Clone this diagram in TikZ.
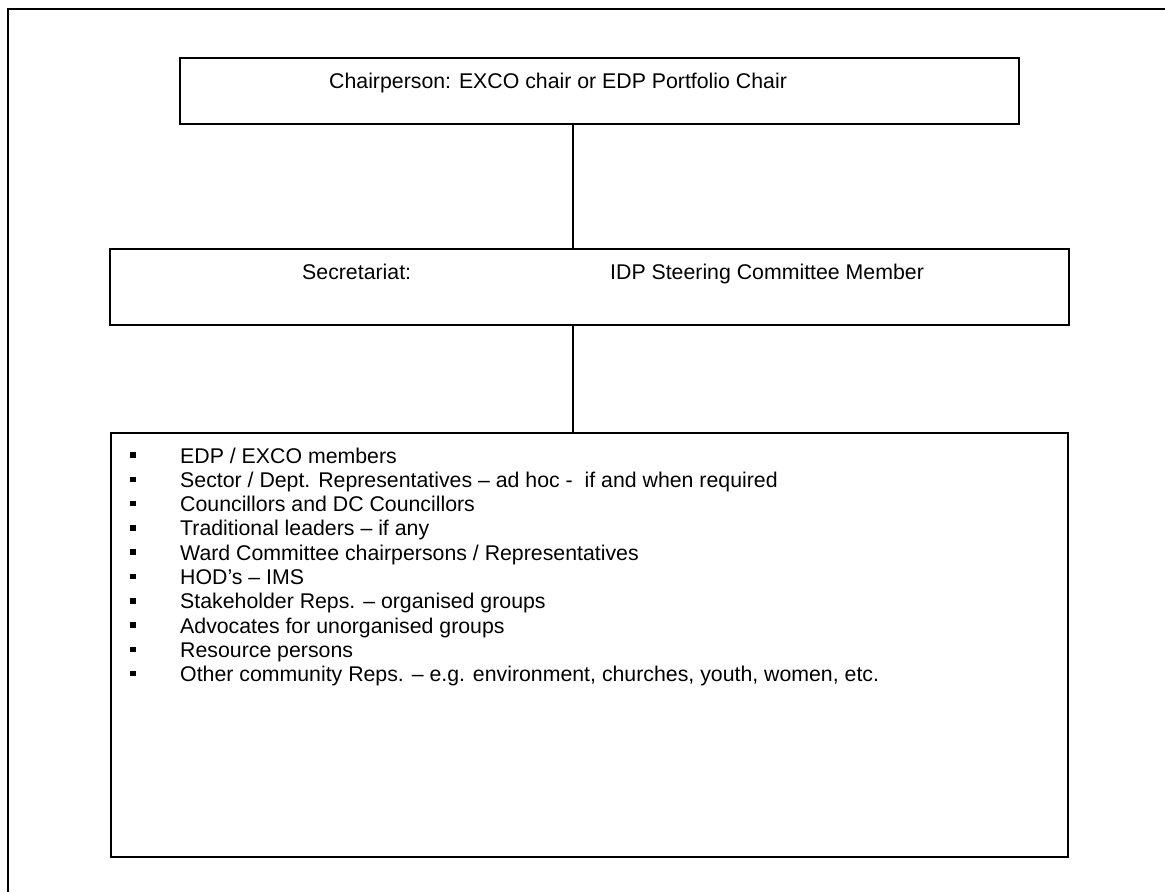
\documentclass[tikz,border=0pt]{standalone}
\usepackage{fontspec}
\setmainfont{Liberation Sans}
\begin{document}
\begin{tikzpicture}[x=1pt,y=-1pt,
  box/.style={draw,line width=1.4pt},
  conn/.style={line width=1.4pt},
  txt/.style={anchor=base west,inner sep=0pt,font=\fontsize{21.3}{24}\selectfont},
  bul/.style={fill,minimum size=5.5pt,inner sep=0pt}]
\useasboundingbox (0,0) rectangle (1165,892);
\draw[line width=2pt] (8,892) -- (8,9) -- (1165,9);
\draw[box] (180,58) rectangle (1019,124);
\coordinate (chairB) at (573,124);
\node[txt] (chair) at (329,88) {Chairperson: EXCO chair or EDP Portfolio Chair};
\draw[box] (110,249) rectangle (1069,325);
\coordinate (secT) at (573,249);
\coordinate (secB) at (573,325);
\node[txt] (sec) at (302,279) {Secretariat:};
\node[txt] (idp) at (610,279) {IDP Steering Committee Member};
\draw[box] (111,433) rectangle (1068,857);
\coordinate (listT) at (573,433);
\draw[conn] (chairB) -- (secT);
\draw[conn] (secB) -- (listT);
\foreach \i in {0,...,9}{\node[bul] (b\i) at (133,455+24.3*\i) {};}
\node[txt] (l0) at (180,463.0) {EDP / EXCO members};
\node[txt] (l1) at (180,487.3) {Sector / Dept. Representatives -- ad hoc -\ \ if and when required};
\node[txt] (l2) at (180,511.6) {Councillors and DC Councillors};
\node[txt] (l3) at (180,535.9) {Traditional leaders -- if any};
\node[txt] (l4) at (180,560.2) {Ward Committee chairpersons / Representatives};
\node[txt] (l5) at (180,584.5) {HOD’s -- IMS};
\node[txt] (l6) at (180,608.8) {Stakeholder Reps. -- organised groups};
\node[txt] (l7) at (180,633.1) {Advocates for unorganised groups};
\node[txt] (l8) at (180,657.4) {Resource persons};
\node[txt] (l9) at (180,681.7) {Other community Reps. -- e.g. environment, churches, youth, women, etc.};
\end{tikzpicture}
\end{document}
